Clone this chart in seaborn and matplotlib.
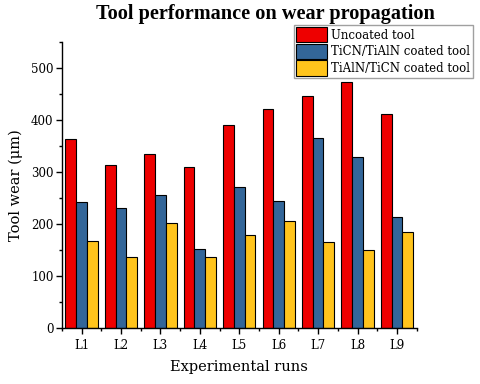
import matplotlib
matplotlib.use("Agg")
import matplotlib.pyplot as plt
import seaborn as sns
import pandas as pd
from matplotlib.ticker import MultipleLocator, FixedLocator

runs = ["L1", "L2", "L3", "L4", "L5", "L6", "L7", "L8", "L9"]
uncoated = [363, 314, 334, 309, 391, 420, 445, 473, 411]
ticn_tialn = [242, 231, 255, 151, 270, 245, 366, 329, 213]
tialn_ticn = [167, 136, 201, 136, 178, 206, 165, 150, 184]
series = ["Uncoated tool", "TiCN/TiAlN coated tool", "TiAlN/TiCN coated tool"]
colors = ["#EE0000", "#336699", "#FFC41C"]

df = pd.DataFrame({
    "run": runs * 3,
    "wear": uncoated + ticn_tialn + tialn_ticn,
    "tool": [series[0]] * 9 + [series[1]] * 9 + [series[2]] * 9,
})

sns.set_theme(style="white")
plt.rcParams["font.family"] = ["DejaVu Serif"]
plt.rcParams["text.color"] = "black"
plt.rcParams["axes.labelcolor"] = "black"
plt.rcParams["xtick.color"] = "black"
plt.rcParams["ytick.color"] = "black"

fig = plt.figure(figsize=(4.8, 3.84), dpi=100)
ax = fig.add_axes([0.129, 0.146, 0.739, 0.745])
sns.barplot(data=df, x="run", y="wear", hue="tool", palette=colors,
            width=0.82, edgecolor="black", linewidth=0.8, ax=ax,
            saturation=1)

ax.set_xlim(-0.5, 8.5)
ax.set_ylim(0, 550)
ax.yaxis.set_major_locator(MultipleLocator(100))
ax.yaxis.set_minor_locator(MultipleLocator(50))
ax.xaxis.set_minor_locator(FixedLocator([i + 0.5 for i in range(-1, 9)]))
for s in ["top", "right"]:
    ax.spines[s].set_visible(False)
for s in ["left", "bottom"]:
    ax.spines[s].set_color("black")
    ax.spines[s].set_linewidth(1.0)
ax.tick_params(axis="both", which="major", direction="out", length=4,
               width=1, color="black", labelcolor="black", labelsize=8.5,
               pad=2, bottom=True, left=True)
ax.tick_params(axis="x", which="major", pad=4)
ax.tick_params(axis="both", which="minor", direction="out", length=2.5,
               width=1, color="black", bottom=True, left=True)

ax.set_xlabel("Experimental runs", fontsize=10.5, labelpad=6, color="black")
ax.set_ylabel("Tool wear (μm)", fontsize=10.5, labelpad=6, color="black")
fig.suptitle("Tool performance on wear propagation", fontsize=14.6,
             fontweight="bold", x=0.553, y=0.99, color="black",
             family=["Liberation Serif", "DejaVu Serif"])

leg = ax.legend(loc="upper right", bbox_to_anchor=(0.985, 0.935),
                bbox_transform=fig.transFigure, fontsize=8.5,
                frameon=True, fancybox=False, edgecolor="#888888",
                handlelength=2.6, handleheight=1.6, handletextpad=0.4,
                borderpad=0.2, labelspacing=0.12, borderaxespad=0)
leg.get_frame().set_linewidth(1.0)
for t in leg.get_texts():
    t.set_color("black")

fig.savefig("out.png", dpi=100)
